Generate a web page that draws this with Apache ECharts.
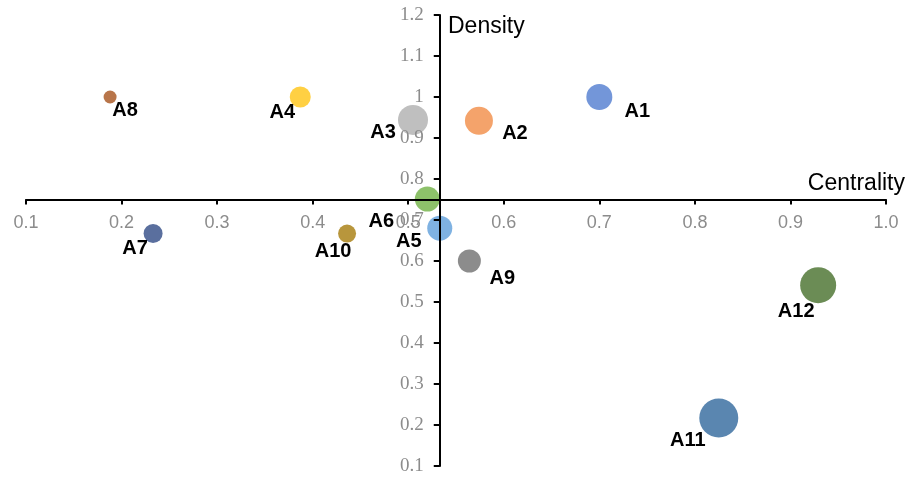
<!DOCTYPE html>
<html>
<head>
<meta charset="utf-8">
<script src="https://cdn.jsdelivr.net/npm/echarts@6/dist/echarts.min.js"></script>
<style>html,body{margin:0;padding:0;background:#fff;}#c{width:913px;height:478px;}</style>
</head>
<body>
<div id="c"></div>
<script>
// Data
var names = ['A1','A2','A3','A4','A5','A6','A7','A8','A9','A10','A11','A12'];
var centrality = [0.700, 0.574, 0.505, 0.387, 0.533, 0.520, 0.233, 0.188, 0.564, 0.436, 0.825, 0.929];
var density    = [1.000, 0.942, 0.944, 1.000, 0.680, 0.751, 0.667, 1.000, 0.600, 0.667, 0.217, 0.541];
var bubbleSize = [26, 28, 30, 21, 25, 25, 19, 13, 23, 18, 39, 36];
var xTicksMin = 0.1, xTicksMax = 1.0, yTicksMin = 0.1, yTicksMax = 1.2;
var xCross = 0.533, yCross = 0.75;

// Styles
var colors = ['#7396d9','#f4a36b','#bfbfbf','#ffd043','#7fb2e2','#8dc16a','#5a6f9e','#b8754a','#8c8c8c','#b8963c','#5a86b0','#6b8c55'];
var labelOffsets = [[38,14],[36,13],[-30,13],[-18,15],[-31,13],[-46,22],[-18,15],[15,13],[33,17],[-14,18],[-31,22],[-22,26]];

var gridL = 26, gridR = 27, gridT = 15, gridB = 12;
var W = 913, H = 478;
var gridW = W - gridL - gridR, gridH = H - gridT - gridB;
var xOffset = -gridH * (yCross - yTicksMin) / (yTicksMax - yTicksMin);
var yOffset = -gridW * (xCross - xTicksMin) / (xTicksMax - xTicksMin);

var data = names.map(function (n, i) {
  return {
    name: n,
    value: [centrality[i], density[i], bubbleSize[i]],
    symbolSize: bubbleSize[i],
    itemStyle: { color: colors[i] },
    label: { offset: labelOffsets[i] }
  };
});

var chart = echarts.init(document.getElementById('c'), null, { renderer: 'canvas' });
chart.setOption({
  animation: false,
  backgroundColor: '#fff',
  grid: { left: gridL, right: gridR, top: gridT, bottom: gridB, containLabel: false, outerBoundsMode: 'none' },
  xAxis: {
    type: 'value', min: xTicksMin, max: xTicksMax, interval: 0.1, z: 10,
    offset: xOffset,
    axisLine: { onZero: false, lineStyle: { color: '#000', width: 2 } },
    axisTick: { show: true, length: 5, lineStyle: { color: '#000', width: 2 } },
    axisLabel: { margin: 15, color: '#8c8c8c', fontSize: 18, fontFamily: 'Liberation Sans, Arial, sans-serif',
      formatter: function (v) { return v.toFixed(1); } },
    splitLine: { show: false }
  },
  yAxis: {
    type: 'value', min: yTicksMin, max: yTicksMax, interval: 0.1, z: 10,
    offset: yOffset,
    axisLine: { onZero: false, lineStyle: { color: '#000', width: 2 } },
    axisTick: { show: true, length: 6, lineStyle: { color: '#000', width: 2 } },
    axisLabel: { margin: 16, color: '#8c8c8c', fontSize: 19, fontFamily: 'Liberation Serif, Times New Roman, serif',
      formatter: function (v) { return String(Math.round(v * 10) / 10); } },
    splitLine: { show: false }
  },
  graphic: [
    { type: 'text', left: 448, top: 15, style: { text: 'Density', fill: '#000', font: '23px Liberation Sans, Arial, sans-serif' } },
    { type: 'text', right: 8, top: 172, style: { text: 'Centrality', fill: '#000', font: '23px Liberation Sans, Arial, sans-serif' } }
  ],
  series: [{
    type: 'scatter',
    z: 2,
    data: data,
    label: {
      show: true, position: 'inside', formatter: '{b}',
      color: '#000', fontWeight: 'bold', fontSize: 20, fontFamily: 'Liberation Sans, Arial, sans-serif'
    },
    itemStyle: { opacity: 1 }
  }]
});
</script>
</body>
</html>
